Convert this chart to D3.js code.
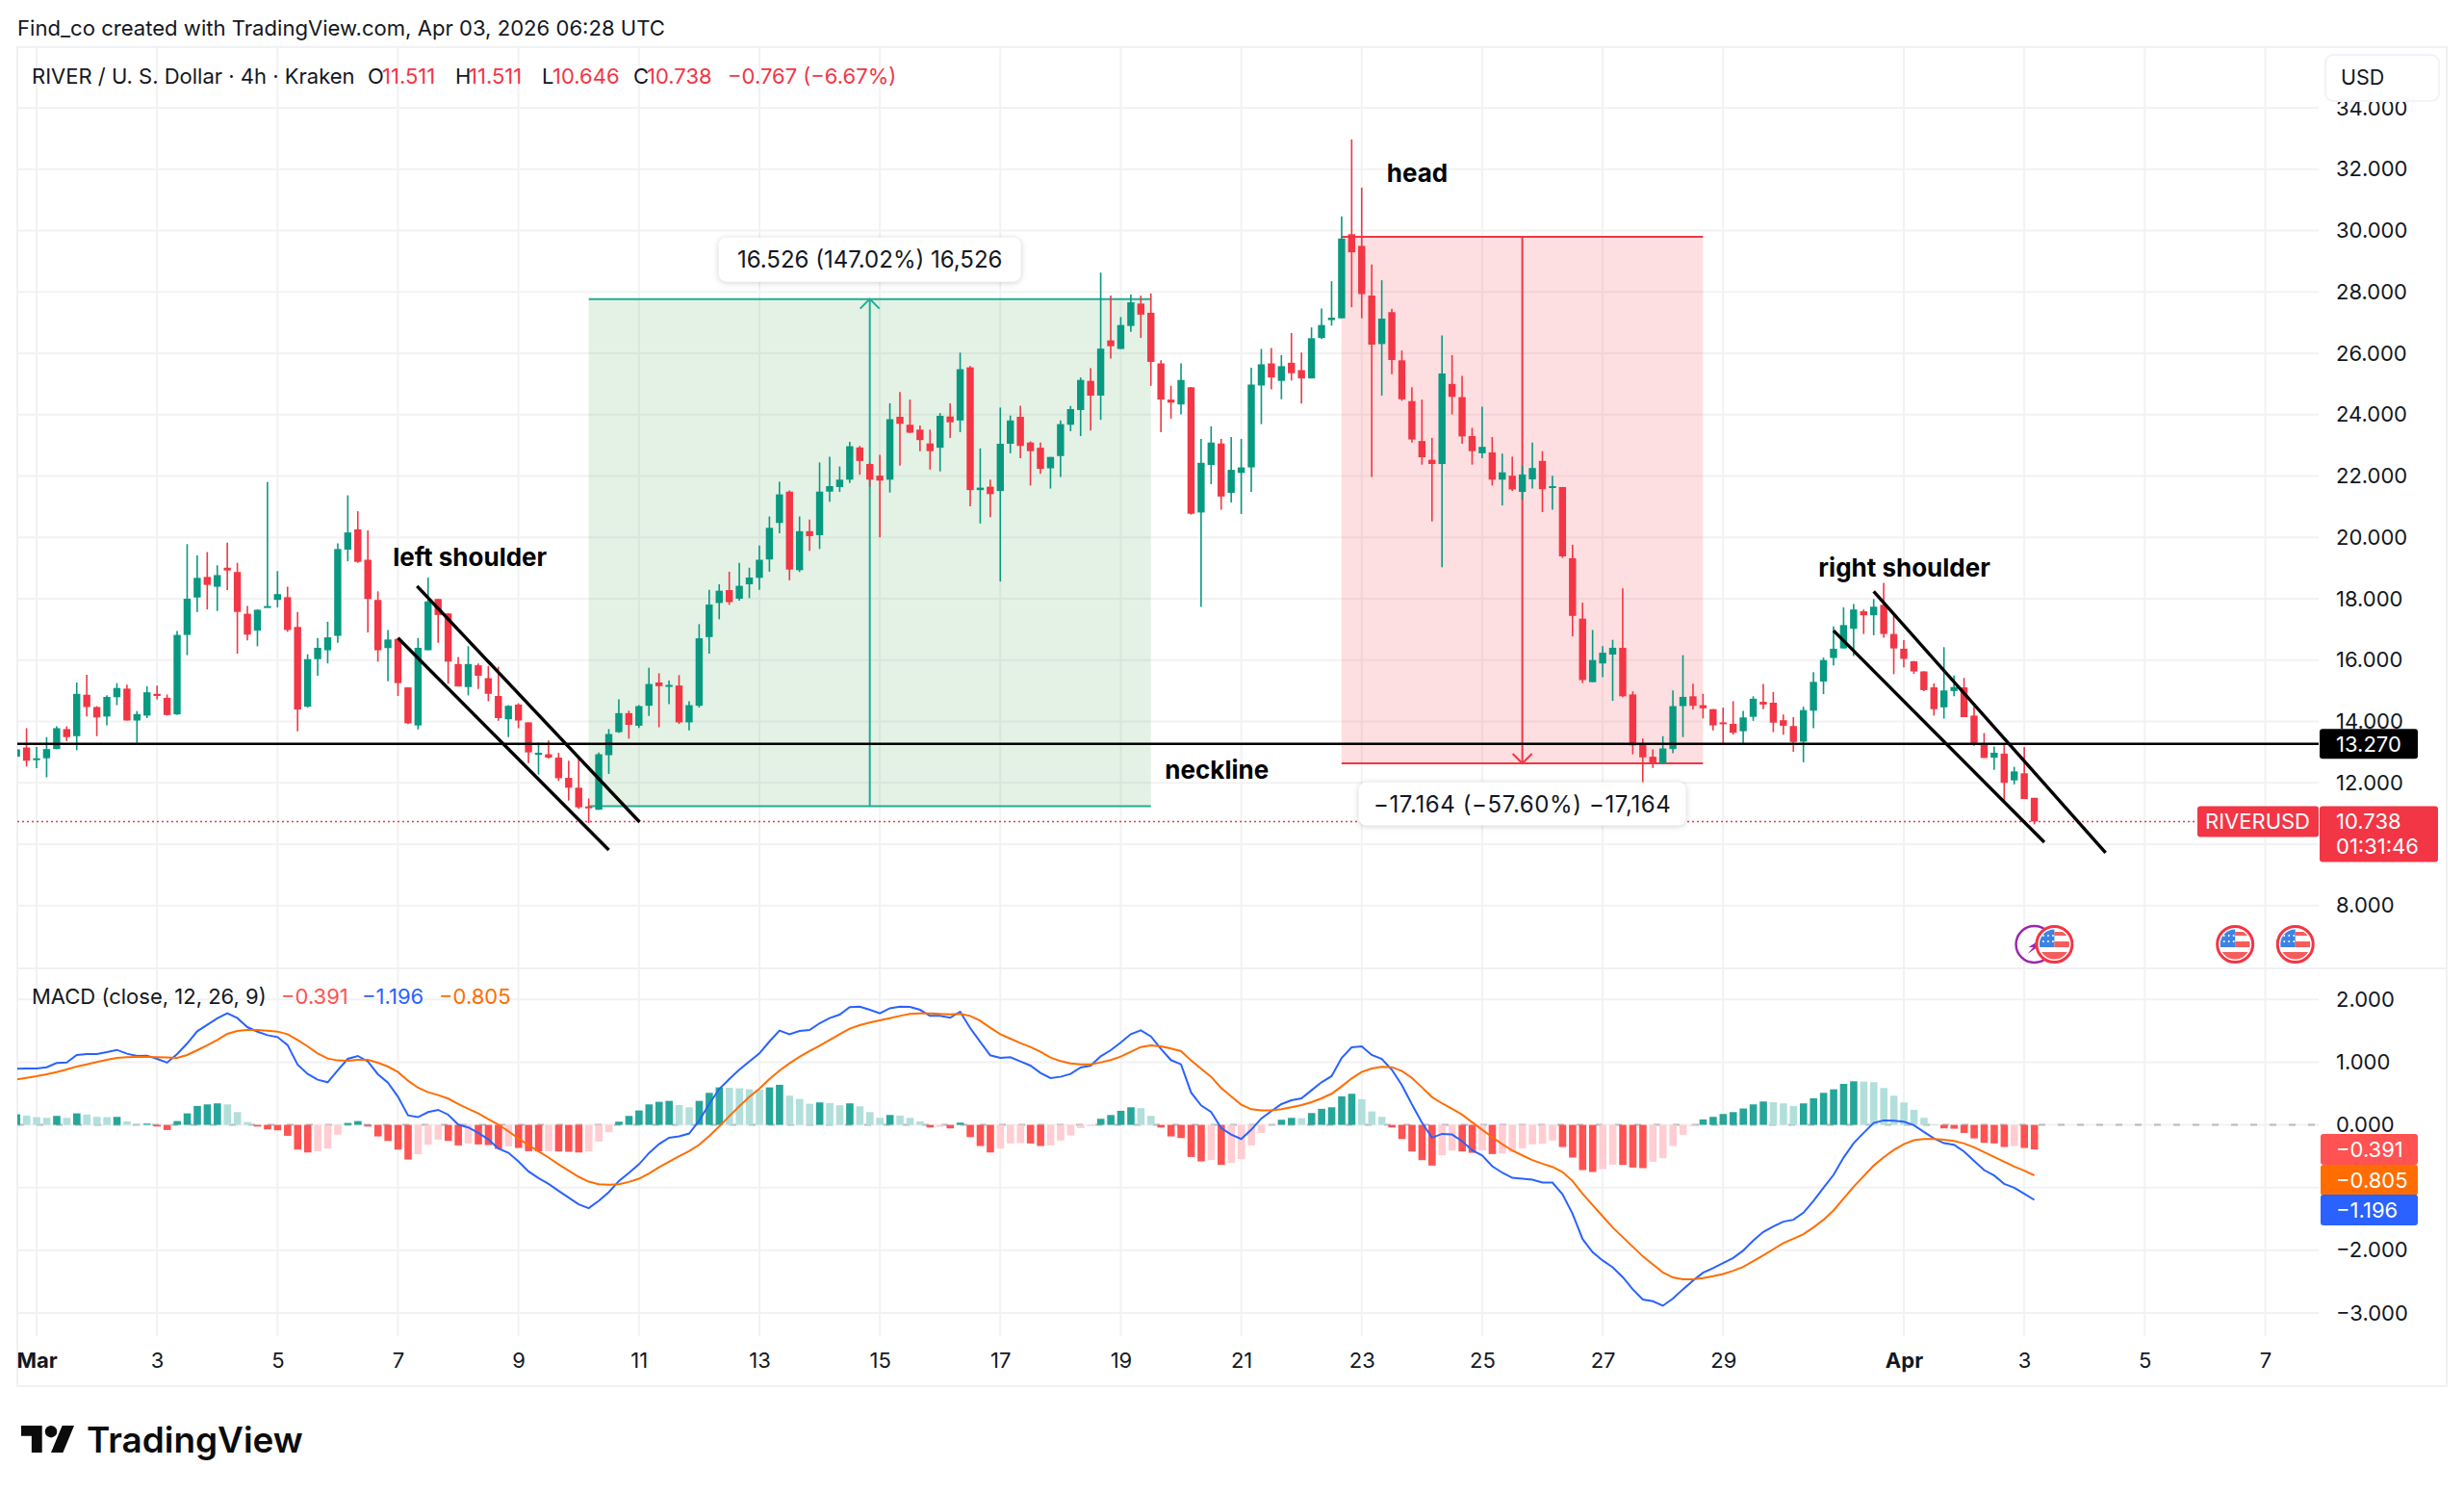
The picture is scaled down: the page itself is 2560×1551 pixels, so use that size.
<!DOCTYPE html>
<html>
<head>
<meta charset="utf-8">
<title>RIVER / U. S. Dollar</title>
<script src="https://d3js.org/d3.v7.min.js"></script>
<style>
  html, body { margin: 0; padding: 0; background: #fff; }
  svg { display: block; }
  text { font-family: Inter, "Noto Sans", sans-serif; fill: #131722; }
  .axis path, .axis line { display: none; }
  .axis text { font-size: 22px; font-family: Inter, "Noto Sans", sans-serif; fill: #131722; }
  .note { font-size: 26px; font-weight: 700; fill: #000; }
  .pill { filter: drop-shadow(0 1px 3px rgba(0,0,0,.18)); }
</style>
</head>
<body>
<div id="chart"></div>
<script>
// 4h candles; the list starts two bars before 1 March 00:00 (bar index 0)
const firstBar = -2;
const opens = [
  12.85,13.15,12.77,12.80,13.10,13.75,13.52,14.87,14.47,14.16,
  14.79,15.07,14.03,14.19,14.90,14.77,14.23,16.82,18.04,18.71,
  18.39,19.01,18.87,17.51,16.96,17.72,17.96,18.05,17.08,14.48,
  16.03,16.32,16.79,19.60,20.26,19.27,17.96,16.39,16.69,15.11,
  13.87,16.32,17.99,17.52,15.87,15.12,15.83,15.41,14.83,14.07,
  14.55,13.97,12.91,12.93,12.82,12.16,11.84,11.23,11.12,12.90,
  13.65,14.27,13.86,14.51,15.27,15.14,15.17,13.97,14.51,16.75,
  17.86,18.28,18.00,18.47,18.68,19.28,20.47,21.49,18.93,20.20,
  20.07,21.49,21.64,21.88,22.93,22.39,22.01,21.88,23.93,23.67,
  23.51,23.06,22.92,23.94,23.81,25.54,21.54,21.65,21.51,23.05,
  23.93,23.09,22.92,22.25,22.65,23.67,24.15,25.10,24.62,26.42,
  26.14,26.89,27.62,27.32,25.67,24.49,24.33,24.89,20.81,22.36,
  23.06,21.45,22.10,22.28,24.95,25.67,25.10,25.69,25.45,25.18,
  26.50,27.08,27.14,29.88,29.50,27.88,26.30,27.34,25.77,24.44,
  23.14,22.53,22.39,25.00,24.57,23.30,22.74,22.77,21.88,22.01,
  21.48,21.89,22.49,21.62,21.64,19.32,17.35,15.28,15.89,16.18,
  16.40,14.88,13.28,12.85,12.64,13.10,14.50,14.82,14.53,14.40,
  13.97,13.92,13.68,14.15,14.64,14.61,14.04,13.85,13.34,14.35,
  15.30,16.07,16.38,17.02,17.59,17.46,17.80,16.85,16.37,15.96,
  15.63,15.11,14.46,14.99,15.11,14.19,13.25,12.82,12.95,12.08,12.31,11.511
];
const highs = [
  13.09,13.78,13.17,13.49,13.84,13.84,15.27,15.52,14.50,14.85,
  15.25,15.20,14.34,15.14,15.17,14.88,16.95,19.78,19.41,19.52,
  19.09,19.83,19.17,17.76,17.65,21.80,18.90,18.39,17.57,16.19,
  16.72,17.25,19.80,21.37,20.85,20.23,18.24,16.98,16.72,15.11,
  16.72,18.69,17.99,17.52,16.10,16.45,15.89,15.81,15.78,14.53,
  14.59,13.97,13.31,13.38,12.98,12.72,12.82,11.49,12.99,13.75,
  14.72,14.35,14.53,15.75,15.57,15.33,15.51,14.66,17.17,18.29,
  18.47,18.88,19.17,19.01,19.73,20.68,21.81,21.53,20.68,20.58,
  22.44,22.63,22.31,23.11,22.98,22.43,22.69,24.37,24.74,24.49,
  23.65,23.51,24.05,24.37,26.02,25.58,22.90,21.88,24.23,23.97,
  24.29,23.13,23.09,22.62,23.81,24.28,25.21,25.51,28.63,27.88,
  27.18,27.91,27.88,27.95,25.77,24.94,25.67,24.90,23.21,23.62,
  23.21,23.27,23.21,25.53,26.14,26.17,25.94,26.66,26.02,26.84,
  27.46,28.35,30.46,32.97,31.40,28.89,28.38,27.45,26.09,24.89,
  24.49,23.24,26.58,25.94,25.26,23.57,24.26,23.27,22.73,22.63,
  22.34,23.09,22.81,22.01,21.64,19.76,17.87,16.98,16.45,16.66,
  18.34,14.98,13.44,13.09,13.52,15.01,16.16,15.23,14.90,14.40,
  14.45,14.66,14.34,14.82,15.22,14.96,14.23,14.14,14.48,15.61,
  16.08,17.10,17.72,17.83,17.65,17.99,18.52,17.54,16.65,15.97,
  15.64,15.24,16.42,15.50,15.42,14.48,13.62,13.18,13.25,12.52,13.17,11.511
];
const lows = [
  12.85,12.53,12.48,12.18,13.10,13.36,13.06,14.16,13.52,13.87,
  14.53,14.03,13.28,14.11,14.71,14.19,14.21,16.16,17.57,17.65,
  17.60,18.28,16.21,16.64,16.45,17.72,17.72,16.92,13.68,14.45,
  15.49,15.89,16.56,19.22,19.17,16.90,15.95,15.31,14.83,13.91,
  13.74,16.32,16.56,15.23,15.14,14.85,15.06,14.66,14.02,13.49,
  13.78,12.64,12.27,12.79,12.06,11.42,11.15,10.69,11.12,12.29,
  13.63,13.44,13.79,14.18,13.81,14.56,13.92,13.71,14.45,16.21,
  17.33,17.80,17.94,18.02,18.29,18.88,20.13,18.60,18.87,19.56,
  19.62,21.16,21.48,21.77,22.04,21.65,20.00,21.46,22.34,23.40,
  22.81,22.21,22.15,23.24,23.43,21.01,20.45,20.66,18.56,22.74,
  22.58,21.69,22.07,21.59,21.97,23.46,23.30,23.48,23.83,25.83,
  26.14,26.70,26.50,24.94,23.43,23.87,24.01,20.74,17.73,21.73,
  20.90,21.14,20.76,21.48,23.69,24.82,24.50,25.11,24.36,25.18,
  26.46,26.90,27.14,27.50,27.14,21.97,24.62,25.32,24.45,23.09,
  22.37,20.52,19.03,24.01,23.05,22.37,22.58,21.69,21.04,21.51,
  21.22,21.59,20.82,20.90,19.33,16.77,15.25,15.28,15.44,14.67,
  14.79,12.93,11.86,12.48,12.64,12.96,13.49,14.39,14.10,13.71,
  13.28,13.57,13.25,14.02,14.40,13.65,13.57,13.01,12.67,13.78,
  14.89,15.83,16.38,16.13,16.85,16.81,16.73,15.54,15.76,15.55,
  14.99,14.19,14.09,14.82,14.14,13.21,12.81,12.42,11.37,11.95,11.47,10.646
];
const closes = [
  13.09,12.72,12.80,13.10,13.78,13.49,14.90,14.47,14.13,14.80,
  15.09,14.03,14.24,14.95,14.83,14.21,16.82,18.00,18.68,18.45,
  18.77,18.92,17.57,16.83,17.64,17.76,18.15,16.98,14.39,16.03,
  16.40,16.74,19.62,20.16,19.20,17.99,16.32,16.67,15.25,13.94,
  16.40,17.91,17.47,15.95,15.14,15.87,15.49,14.90,14.11,14.51,
  14.03,12.99,12.98,12.82,12.15,11.84,11.20,11.17,12.93,13.59,
  14.27,13.89,14.50,15.22,15.15,15.19,13.97,14.53,16.71,17.81,
  18.26,17.89,18.42,18.69,19.27,20.31,21.40,18.95,20.20,20.04,
  21.49,21.67,21.88,22.97,22.49,21.88,21.85,23.85,23.70,23.41,
  23.17,22.81,23.96,23.75,25.48,21.54,21.62,21.41,23.05,23.81,
  22.98,22.81,22.23,22.62,23.69,24.18,25.13,24.62,26.15,26.23,
  26.92,27.66,27.26,25.72,24.49,24.39,25.13,20.77,22.43,23.09,
  21.33,22.20,22.28,24.98,25.64,25.21,25.58,25.35,25.18,26.49,
  26.92,27.16,29.74,29.29,27.93,26.28,27.13,25.78,24.50,23.19,
  22.61,22.39,25.34,24.58,23.29,22.81,22.95,21.88,22.12,21.56,
  22.05,22.26,21.57,21.67,19.38,17.44,15.35,16.00,16.24,16.40,
  14.82,13.22,12.83,12.64,13.12,14.50,14.80,14.51,14.43,13.87,
  13.92,13.63,14.13,14.74,14.55,13.96,13.86,13.33,14.37,15.29,
  16.00,16.37,17.14,17.65,17.46,17.74,16.85,16.38,16.04,15.63,
  15.02,14.40,15.01,15.12,14.14,13.23,12.81,12.98,12.00,12.37,11.47,10.738
];

// MACD (close, 12, 26, 9), same bar index as the candles
const macdHist = [
  0.169,0.148,0.123,0.112,0.143,0.112,0.184,0.164,0.128,0.123,
  0.128,0.056,0.015,0.020,-0.026,-0.082,0.061,0.184,0.302,0.327,
  0.343,0.327,0.204,0.046,-0.026,-0.072,-0.087,-0.174,-0.394,-0.440,
  -0.419,-0.378,-0.158,0.031,0.061,-0.026,-0.184,-0.256,-0.394,-0.552,
  -0.470,-0.317,-0.235,-0.256,-0.327,-0.296,-0.312,-0.322,-0.383,-0.343,
  -0.368,-0.419,-0.424,-0.419,-0.424,-0.429,-0.440,-0.424,-0.266,-0.118,
  0.051,0.143,0.230,0.327,0.368,0.383,0.317,0.281,0.383,0.511,
  0.598,0.593,0.583,0.567,0.562,0.598,0.639,0.465,0.414,0.337,
  0.358,0.348,0.312,0.343,0.296,0.204,0.112,0.158,0.148,0.112,
  0.056,-0.041,-0.031,-0.056,0.036,-0.194,-0.337,-0.440,-0.378,-0.296,
  -0.291,-0.296,-0.337,-0.327,-0.250,-0.169,-0.051,-0.020,0.097,0.158,
  0.225,0.281,0.266,0.143,-0.041,-0.184,-0.210,-0.511,-0.583,-0.562,
  -0.639,-0.608,-0.547,-0.327,-0.128,-0.010,0.082,0.112,0.107,0.189,
  0.256,0.281,0.455,0.496,0.409,0.215,0.128,-0.041,-0.225,-0.424,
  -0.562,-0.649,-0.486,-0.409,-0.424,-0.445,-0.409,-0.465,-0.455,-0.435,
  -0.373,-0.312,-0.302,-0.250,-0.353,-0.521,-0.721,-0.751,-0.705,-0.634,
  -0.639,-0.680,-0.690,-0.588,-0.532,-0.337,-0.158,-0.020,0.087,0.128,
  0.174,0.204,0.261,0.327,0.373,0.363,0.343,0.302,0.343,0.424,
  0.511,0.567,0.654,0.695,0.690,0.680,0.588,0.465,0.358,0.240,
  0.112,0.010,-0.056,-0.061,-0.128,-0.215,-0.286,-0.296,-0.353,-0.337,-0.368,-0.391
];
const macdLine = [
  0.895,0.899,0.900,0.920,0.986,0.996,1.114,1.130,1.130,1.161,
  1.196,1.135,1.099,1.104,1.053,0.992,1.129,1.298,1.493,1.595,
  1.698,1.779,1.702,1.559,1.487,1.431,1.401,1.273,0.961,0.812,
  0.721,0.680,0.870,1.053,1.099,1.012,0.808,0.674,0.449,0.153,
  0.123,0.204,0.240,0.163,0.005,-0.040,-0.128,-0.230,-0.378,-0.445,
  -0.583,-0.741,-0.848,-0.940,-1.053,-1.160,-1.268,-1.329,-1.212,-1.074,
  -0.895,-0.767,-0.629,-0.450,-0.307,-0.205,-0.184,-0.138,0.066,0.332,
  0.572,0.731,0.879,1.012,1.140,1.329,1.503,1.446,1.498,1.513,
  1.621,1.703,1.759,1.877,1.886,1.835,1.779,1.860,1.886,1.881,
  1.835,1.738,1.738,1.708,1.805,1.544,1.324,1.109,1.069,1.079,
  1.013,0.946,0.829,0.747,0.767,0.812,0.915,0.946,1.094,1.191,
  1.314,1.447,1.508,1.411,1.211,1.033,0.966,0.517,0.312,0.205,
  -0.051,-0.153,-0.225,-0.077,0.102,0.220,0.332,0.393,0.424,0.552,
  0.680,0.777,1.068,1.237,1.252,1.115,1.053,0.879,0.634,0.327,
  0.036,-0.204,-0.143,-0.153,-0.260,-0.404,-0.486,-0.659,-0.762,-0.844,
  -0.859,-0.874,-0.921,-0.920,-1.104,-1.416,-1.820,-2.029,-2.162,-2.270,
  -2.428,-2.623,-2.786,-2.812,-2.884,-2.770,-2.622,-2.484,-2.357,-2.285,
  -2.203,-2.122,-2.004,-1.846,-1.708,-1.620,-1.543,-1.513,-1.400,-1.212,
  -1.002,-0.798,-0.522,-0.292,-0.128,0.031,0.072,0.066,0.051,-0.005,
  -0.113,-0.215,-0.291,-0.317,-0.424,-0.573,-0.721,-0.807,-0.941,-1.002,-1.099,-1.196
];
const macdSignal = [
  0.726,0.751,0.777,0.808,0.843,0.884,0.930,0.966,1.002,1.038,
  1.068,1.079,1.084,1.084,1.079,1.074,1.068,1.114,1.191,1.268,
  1.355,1.452,1.498,1.513,1.513,1.503,1.488,1.447,1.355,1.252,
  1.140,1.058,1.028,1.022,1.038,1.038,0.992,0.930,0.843,0.705,
  0.593,0.521,0.475,0.419,0.332,0.256,0.184,0.092,0.005,-0.102,
  -0.215,-0.322,-0.424,-0.521,-0.629,-0.731,-0.828,-0.905,-0.946,-0.956,
  -0.946,-0.910,-0.859,-0.777,-0.675,-0.588,-0.501,-0.419,-0.317,-0.179,
  -0.026,0.138,0.296,0.445,0.578,0.731,0.864,0.981,1.084,1.176,
  1.263,1.355,1.447,1.534,1.590,1.631,1.667,1.702,1.738,1.769,
  1.779,1.779,1.769,1.764,1.769,1.738,1.661,1.549,1.447,1.375,
  1.304,1.242,1.166,1.074,1.017,0.981,0.966,0.966,0.997,1.033,
  1.089,1.166,1.242,1.268,1.252,1.217,1.176,1.028,0.895,0.767,
  0.588,0.455,0.322,0.250,0.230,0.230,0.250,0.281,0.317,0.363,
  0.424,0.496,0.613,0.741,0.843,0.900,0.925,0.920,0.859,0.751,
  0.598,0.445,0.343,0.256,0.164,0.041,-0.077,-0.194,-0.307,-0.409,
  -0.486,-0.562,-0.619,-0.670,-0.751,-0.895,-1.099,-1.278,-1.457,-1.636,
  -1.789,-1.943,-2.096,-2.224,-2.352,-2.433,-2.464,-2.464,-2.444,-2.413,
  -2.377,-2.326,-2.265,-2.173,-2.081,-1.983,-1.886,-1.815,-1.743,-1.636,
  -1.513,-1.365,-1.176,-0.987,-0.818,-0.649,-0.516,-0.399,-0.307,-0.245,
  -0.225,-0.225,-0.235,-0.256,-0.296,-0.358,-0.435,-0.511,-0.588,-0.665,-0.731,-0.805
];

// Axis ticks
const priceGrid = [8,10,12,14,16,18,20,22,24,26,28,30,32,34];
const priceLabels = [8,12,14,16,18,20,22,24,26,28,30,32,34];
const macdGrid = [-3,-2,-1,0,1,2];
const macdLabels = [-3,-2,0,1,2];
const timeTickBars = [0,12,24,36,48,60,72,84,96,108,120,132,144,156,168,186,198,210,222];
const timeTickText = ["Mar","3","5","7","9","11","13","15","17","19","21","23","25","27","29","Apr","3","5","7"];

// Drawings on the chart, in bar index and price
const neckline = 13.27;
const lastPrice = 10.738;
const longBox = { from: 55, to: 111, low: 11.241, high: 27.767, text: "16.526 (147.02%) 16,526" };
const shortBox = { from: 130, to: 166, high: 29.799, low: 12.635, text: "\u221217.164 (\u221257.60%) \u221217,164" };
const channels = [
  [[37.9, 18.41], [60.07, 10.72]],
  [[36, 16.72], [57, 9.81]],
  [[183, 18.24], [206.1, 9.72]],
  [[179, 16.96], [200, 10.06]]
];
const notes = [
  { text: "left shoulder", bar: 35.5, price: 19.07 },
  { text: "head", bar: 134.5, price: 31.58 },
  { text: "neckline", bar: 112.4, price: 12.12 },
  { text: "right shoulder", bar: 177.5, price: 18.72 }
];
const flagBars = [201, 219, 225];
const boltBar = 199;

const W = 2560, H = 1551;
const frame = { left: 18, right: 2542, top: 49, paneEnd: 1006, plotEnd: 2409, timeTop: 1388, bottom: 1440 };

const x = d3.scaleLinear().domain([0, 200]).range([38, 2124]);
const y = d3.scaleLinear().domain([8, 34]).range([940.7, 112]);
const ym = d3.scaleLinear().domain([-3, 2]).range([1364, 1038.3]);

const GREEN = "#089981", RED = "#f23645", GRID = "#f2f2f3", FRAME = "#f0f1f3";
const bars = opens.map((o, i) => ({ i: i + firstBar, o, h: highs[i], l: lows[i], c: closes[i], hist: macdHist[i], m: macdLine[i], s: macdSignal[i] }));

const svg = d3.select("#chart").append("svg").attr("width", W).attr("height", H).attr("viewBox", `0 0 ${W} ${H}`);
const defs = svg.append("defs");
defs.append("clipPath").attr("id", "plot").append("rect")
  .attr("x", frame.left).attr("y", frame.top).attr("width", frame.plotEnd - frame.left).attr("height", frame.paneEnd - frame.top);
defs.append("clipPath").attr("id", "macdClip").append("rect")
  .attr("x", frame.left).attr("y", frame.paneEnd).attr("width", frame.plotEnd - frame.left).attr("height", frame.timeTop - frame.paneEnd);
defs.append("clipPath").attr("id", "flagClip").append("circle").attr("r", 15.5);

svg.append("text").attr("x", 18).attr("y", 37).attr("font-size", 22.1).text("Find_co created with TradingView.com, Apr 03, 2026 06:28 UTC");

// grid
const grid = svg.append("g").attr("stroke", GRID).attr("stroke-width", 2);
grid.selectAll(".gy").data(priceGrid).join("line")
  .attr("x1", frame.left).attr("x2", frame.plotEnd).attr("y1", d => y(d)).attr("y2", d => y(d));
grid.selectAll(".gm").data(macdGrid).join("line")
  .attr("x1", frame.left).attr("x2", frame.plotEnd).attr("y1", d => ym(d)).attr("y2", d => ym(d));
grid.selectAll(".gx").data(timeTickBars).join("line")
  .attr("x1", d => x(d)).attr("x2", d => x(d)).attr("y1", frame.top).attr("y2", frame.timeTop);

// frame
const fr = svg.append("g").attr("stroke", FRAME).attr("stroke-width", 2).attr("fill", "none");
fr.append("rect").attr("x", frame.left).attr("y", frame.top).attr("width", frame.right - frame.left).attr("height", frame.bottom - frame.top);
fr.append("line").attr("x1", frame.left).attr("x2", frame.right).attr("y1", frame.paneEnd).attr("y2", frame.paneEnd);

// long and short position boxes
const plot = svg.append("g").attr("clip-path", "url(#plot)");
function positionBox(b, fill, stroke, arrowFrom, arrowTo) {
  const g = plot.append("g");
  const x0 = x(b.from), x1 = x(b.to), mid = x((b.from + b.to) / 2);
  g.append("rect").attr("x", x0).attr("width", x1 - x0).attr("y", y(b.high)).attr("height", y(b.low) - y(b.high)).attr("fill", fill);
  g.selectAll(".edge").data([b.high, b.low]).join("line")
    .attr("x1", x0).attr("x2", x1).attr("y1", d => y(d)).attr("y2", d => y(d)).attr("stroke", stroke).attr("stroke-width", 2);
  g.append("line").attr("x1", mid).attr("x2", mid).attr("y1", y(arrowFrom)).attr("y2", y(arrowTo)).attr("stroke", stroke).attr("stroke-width", 2);
  const dir = arrowTo > arrowFrom ? 1 : -1;
  g.append("path").attr("fill", "none").attr("stroke", stroke).attr("stroke-width", 2)
    .attr("d", d3.line()([[mid - 10, y(arrowTo) + dir * 10], [mid, y(arrowTo)], [mid + 10, y(arrowTo) + dir * 10]]));
}
positionBox(longBox, "rgba(76,160,80,0.15)", "#22ab94", longBox.low, longBox.high);
positionBox(shortBox, "rgba(242,54,69,0.16)", RED, shortBox.high, shortBox.low);

// candles
const candle = plot.append("g").selectAll("g").data(bars).join("g");
candle.append("line")
  .attr("x1", d => x(d.i)).attr("x2", d => x(d.i)).attr("y1", d => y(d.h)).attr("y2", d => y(d.l))
  .attr("stroke", d => d.c >= d.o ? GREEN : RED).attr("stroke-width", 1.6);
candle.append("rect")
  .attr("x", d => x(d.i) - 3.7).attr("width", 7.4)
  .attr("y", d => y(Math.max(d.o, d.c)))
  .attr("height", d => Math.max(2, Math.abs(y(d.o) - y(d.c))))
  .attr("fill", d => d.c >= d.o ? GREEN : RED);

// price lines and channels
const overlay = svg.append("g");
overlay.append("line").attr("x1", frame.left).attr("x2", 2283).attr("y1", y(lastPrice)).attr("y2", y(lastPrice))
  .attr("stroke", RED).attr("stroke-width", 1.5).attr("stroke-dasharray", "2 3");
overlay.append("line").attr("x1", frame.left).attr("x2", frame.plotEnd).attr("y1", y(neckline)).attr("y2", y(neckline))
  .attr("stroke", "#000").attr("stroke-width", 2.5);
overlay.selectAll(".channel").data(channels).join("path").attr("fill", "none").attr("stroke", "#000").attr("stroke-width", 3.4)
  .attr("d", d => d3.line().x(p => x(p[0])).y(p => y(p[1]))(d));
overlay.selectAll(".note").data(notes).join("text").attr("class", "note")
  .attr("x", d => x(d.bar)).attr("y", d => y(d.price)).text(d => d.text);

// measurement labels
function pill(b, cx, cy, w, h, size, spacing) {
  const g = overlay.append("g").attr("transform", `translate(${cx},${cy})`);
  g.append("rect").attr("class", "pill").attr("x", -w / 2).attr("y", -h / 2).attr("width", w).attr("height", h).attr("rx", 8).attr("fill", "#fff");
  g.append("text").attr("text-anchor", "middle").attr("dy", "0.36em").attr("font-size", size).attr("letter-spacing", spacing).text(b.text);
}
pill(longBox, x((longBox.from + longBox.to) / 2), y(longBox.high) - 41, 314, 46, 24, 0);
pill(shortBox, x((shortBox.from + shortBox.to) / 2), y(shortBox.low) + 42, 340, 45, 24, 0.6);

// event markers
const events = svg.append("g");
const bolt = events.append("g").attr("transform", `translate(${x(boltBar)},981)`);
bolt.append("circle").attr("r", 19).attr("fill", "#fff").attr("stroke", "#9c27b0").attr("stroke-width", 2.5);
bolt.append("path").attr("d", "M8,-6 L-6,3 L-1,3 L-7,10 L6,1 L1,1 Z").attr("fill", "#9c27b0");
const flag = events.selectAll(".flag").data(flagBars).join("g").attr("transform", d => `translate(${x(d)},981)`);
flag.append("circle").attr("r", 18.5).attr("fill", "#fff").attr("stroke", RED).attr("stroke-width", 3);
const inner = flag.append("g").attr("clip-path", "url(#flagClip)");
inner.append("rect").attr("x", -16).attr("y", -16).attr("width", 16).attr("height", 19).attr("fill", "#3c83e6");
inner.append("rect").attr("x", 0).attr("y", -3).attr("width", 16).attr("height", 6).attr("fill", "#f55d5d");
inner.append("rect").attr("x", 0).attr("y", -13).attr("width", 16).attr("height", 4).attr("fill", "#f55d5d");
inner.append("rect").attr("x", -16).attr("y", 8).attr("width", 32).attr("height", 8).attr("fill", "#f55d5d");
[-11, -6, -1].forEach(cx => [-9, -3].forEach(cy => inner.append("circle").attr("cx", cx - 0.5).attr("cy", cy).attr("r", 1).attr("fill", "#fff")));

// MACD pane
const zero = ym(0);
svg.append("line").attr("x1", frame.left).attr("x2", frame.plotEnd).attr("y1", zero).attr("y2", zero)
  .attr("stroke", "#b8bac0").attr("stroke-width", 2).attr("stroke-dasharray", "7 13");
const histColor = (d, i) => {
  const prev = i > 0 ? macdHist[i - 1] : d.hist - Math.sign(d.hist);
  if (d.hist >= 0) return d.hist > prev ? "#26a69a" : "#b2dfdb";
  return d.hist < prev ? "#ff5252" : "#ffcdd2";
};
const macdPane = svg.append("g").attr("clip-path", "url(#macdClip)");
macdPane.append("g").selectAll("rect").data(bars).join("rect")
  .attr("x", d => x(d.i) - 3.7).attr("width", 7.6)
  .attr("y", d => Math.min(ym(d.hist), zero))
  .attr("height", d => Math.abs(ym(d.hist) - zero))
  .attr("fill", histColor);
const line = key => d3.line().x(d => x(d.i)).y(d => ym(d[key]))(bars);
macdPane.append("path").attr("d", line("m")).attr("fill", "none").attr("stroke", "#2962ff").attr("stroke-width", 2);
macdPane.append("path").attr("d", line("s")).attr("fill", "none").attr("stroke", "#ff6d00").attr("stroke-width", 2);

// axes
svg.append("g").attr("class", "axis").attr("transform", `translate(${frame.plotEnd},0)`)
  .call(d3.axisRight(y).tickValues(priceLabels).tickFormat(d3.format(".3f")).tickSize(0).tickPadding(18));
svg.append("g").attr("class", "axis").attr("transform", `translate(${frame.plotEnd},0)`)
  .call(d3.axisRight(ym).tickValues(macdLabels).tickFormat(v => d3.format(".3f")(v).replace("-", "\u2212")).tickSize(0).tickPadding(18));
const timeAxis = svg.append("g").attr("class", "axis").attr("transform", `translate(0,${frame.timeTop + 9})`)
  .call(d3.axisBottom(x).tickValues(timeTickBars).tickFormat((d, i) => timeTickText[i]).tickSize(0).tickPadding(8));
timeAxis.selectAll("text").style("font-weight", (d, i) => (timeTickText[i] === "Mar" || timeTickText[i] === "Apr") ? 700 : 400);

// currency box
svg.append("rect").attr("x", 2416).attr("y", 57).attr("width", 118).attr("height", 48).attr("rx", 8).attr("fill", "#fff").attr("stroke", "#f0f3fa").attr("stroke-width", 2);
svg.append("text").attr("x", 2432).attr("y", 88).attr("font-size", 21.5).text("USD");

// price tags
function tag(xp, yp, w, h, fill, lines, size, left, rx) {
  const g = svg.append("g");
  g.append("rect").attr("x", xp).attr("y", yp).attr("width", w).attr("height", h).attr("rx", rx === undefined ? 3 : rx).attr("fill", fill);
  lines.forEach((t, i) => g.append("text").attr("x", left).attr("y", yp + 23.5 + i * 26).attr("font-size", size).style("fill", "#fff").text(t));
}
const fmt = d3.format(".3f");
tag(2410, y(neckline) - 15.5, 102, 31, "#000", [fmt(neckline)], 22, 2427);
tag(2283, y(lastPrice) - 16, 126, 32, RED, ["RIVERUSD"], 22, 2291);
tag(2410, y(lastPrice) - 16, 123, 58, RED, [fmt(lastPrice), "01:31:46"], 22, 2427);
const mm = v => d3.format(".3f")(v).replace("-", "\u2212");
const lastMacd = { h: macdHist[macdHist.length - 1], s: macdSignal[macdSignal.length - 1], m: macdLine[macdLine.length - 1] };
tag(2411, 1178, 101, 32, "#ff5252", [mm(lastMacd.h)], 22, 2427);
tag(2411, 1210, 101, 32, "#ff6d00", [mm(lastMacd.s)], 22, 2427);
tag(2411, 1241, 101, 32, "#2962ff", [mm(lastMacd.m)], 22, 2427);

// legends
function legend(yp, parts, size) {
  const g = svg.append("g");
  parts.forEach(p => g.append("text").attr("x", p[0]).attr("y", yp).attr("font-size", size).style("fill", p[2]).text(p[1]));
}
const lastBar = bars[bars.length - 1];
legend(87, [
  [33, "RIVER / U. S. Dollar \u00b7 4h \u00b7 Kraken", "#131722"],
  [382, "O", "#131722"], [397, fmt(lastBar.o), RED],
  [473, "H", "#131722"], [487, fmt(lastBar.h), RED],
  [563, "L", "#131722"], [574, fmt(lastBar.l), RED],
  [658, "C", "#131722"], [672, fmt(lastBar.c), RED],
  [756, "\u22120.767 (\u22126.67%)", RED]
], 22);
legend(1043, [
  [33, "MACD (close, 12, 26, 9)", "#131722"],
  [292, mm(lastMacd.h), "#ff5252"], [376, mm(lastMacd.m), "#2962ff"], [456, mm(lastMacd.s), "#ff6d00"]
], 22);

// brand mark
const logo = svg.append("g").attr("transform", "translate(22,1474.8) scale(1.55)").attr("fill", "#0b0b0b");
logo.append("path").attr("d", "M14 22H7V11H0V4h14v18zM28 22h-8l7.5-18h8L28 22z");
logo.append("circle").attr("cx", 20).attr("cy", 8).attr("r", 4);
svg.append("text").attr("x", 90).attr("y", 1509).attr("font-size", 36.9).attr("font-weight", 600).style("fill", "#0b0b0b").text("TradingView");
</script>
</body>
</html>
